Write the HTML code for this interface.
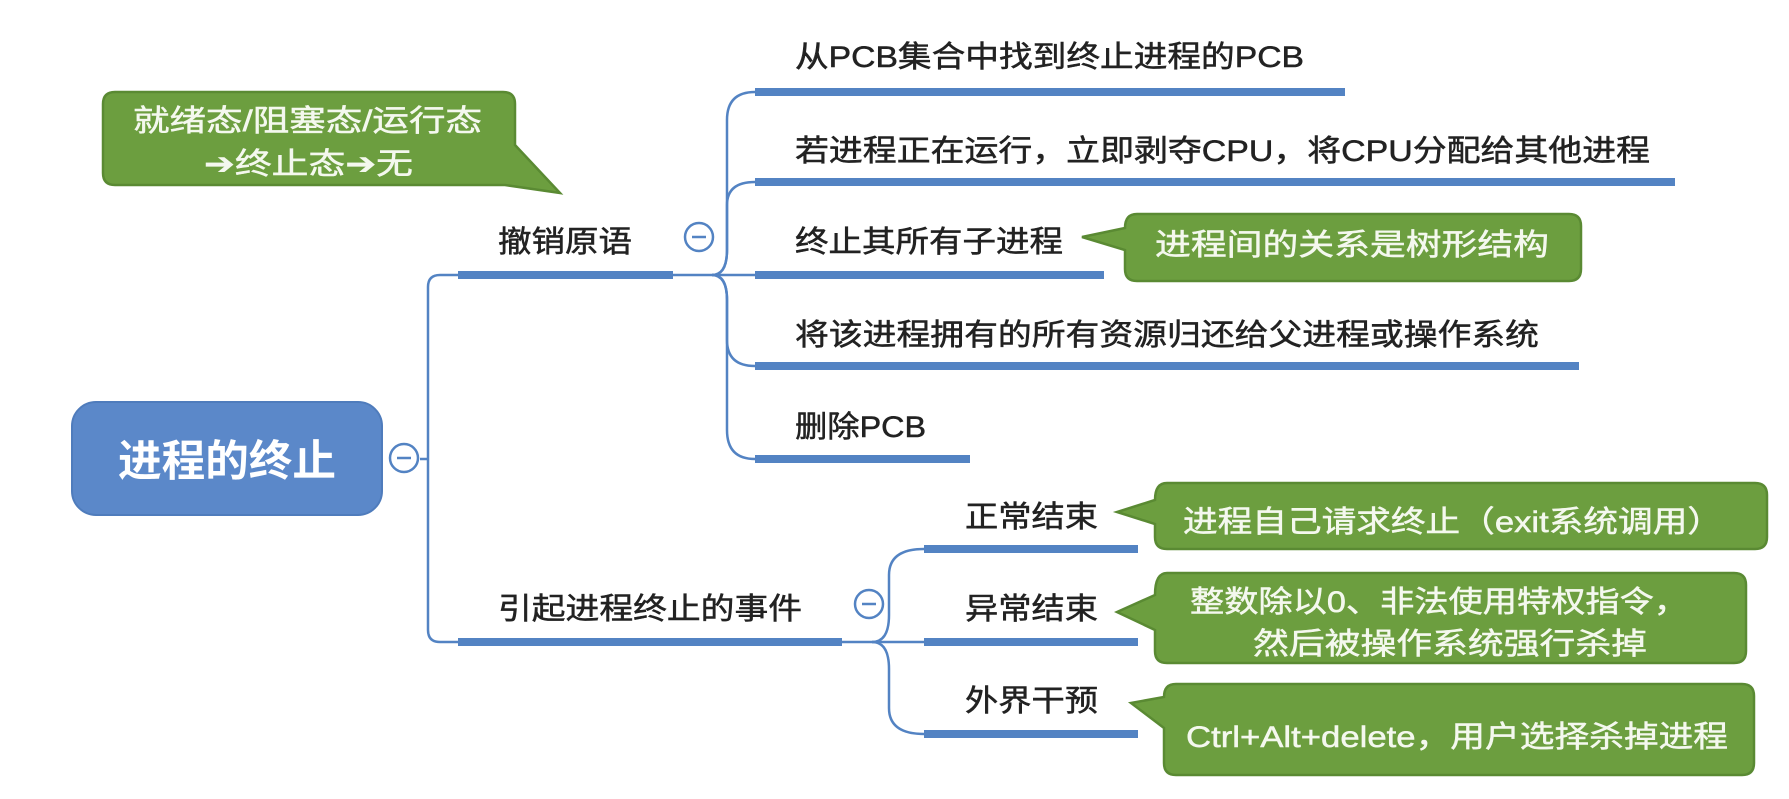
<!DOCTYPE html>
<html><head><meta charset="utf-8"><style>
html,body{margin:0;padding:0;background:#fff;}
svg{display:block;}
text{font-family:"Liberation Sans","Noto Sans CJK SC",sans-serif;}
</style></head><body>
<svg width="1789" height="799" viewBox="0 0 1789 799" xmlns="http://www.w3.org/2000/svg">
<rect width="1789" height="799" fill="#fff"/>
<g fill="none" stroke="#5383c3" stroke-width="2.5">
  <path d="M420 459 L428 459"/>
  <path d="M458 275 L440 275 Q428 275 428 287 L428 630 Q428 642 440 642 L458 642"/>
  <path d="M673 275 L755 275"/>
  <path d="M712 275 Q727 275 727 250 L727 120 Q727 92 755 92"/>
  <path d="M712 275 Q727 275 727 250 L727 205 Q727 182 755 182"/>
  <path d="M712 275 Q727 275 727 300 L727 340 Q727 366 755 366"/>
  <path d="M712 275 Q727 275 727 300 L727 430 Q727 459 755 459"/>
  <path d="M842 642 L924 642"/>
  <path d="M872 642 Q889 642 889 615 L889 575 Q889 549 924 549"/>
  <path d="M872 642 Q889 642 889 669 L889 708 Q889 734 924 734"/>
</g>
<g fill="#5383c3">
  <rect x="458" y="271" width="215" height="8"/>
  <rect x="458" y="638" width="384" height="8"/>
  <rect x="755" y="88" width="590" height="8"/>
  <rect x="755" y="178" width="920" height="8"/>
  <rect x="755" y="271" width="349" height="8"/>
  <rect x="755" y="362" width="824" height="8"/>
  <rect x="755" y="455" width="215" height="8"/>
  <rect x="924" y="545" width="214" height="8"/>
  <rect x="924" y="638" width="214" height="8"/>
  <rect x="924" y="730" width="214" height="8"/>
</g>
<g fill="#fff" stroke="#5383c3" stroke-width="2.5">
  <circle cx="404" cy="458" r="14"/>
  <circle cx="699" cy="237" r="14"/>
  <circle cx="869" cy="604" r="14"/>
</g>
<g stroke="#5383c3" stroke-width="2.5">
  <line x1="397" y1="458" x2="411" y2="458"/>
  <line x1="692" y1="237" x2="706" y2="237"/>
  <line x1="862" y1="604" x2="876" y2="604"/>
</g>
<rect x="72" y="402" width="310" height="113" rx="24" fill="#5b88c9" stroke="#4f7cbc" stroke-width="2"/>
<text x="227" y="476" text-anchor="middle" font-size="43" font-weight="bold" fill="#fff" textLength="218" lengthAdjust="spacingAndGlyphs">进程的终止</text>
<g fill="#6c9e3f" stroke="#5a8a33" stroke-width="2.5">
  <path d="M115 92 L503 92 Q515 92 515 104 L515 145 L560 193 L505 185 L115 185 Q103 185 103 173 L103 104 Q103 92 115 92 Z"/>
  <path d="M1137 214 L1569 214 Q1581 214 1581 226 L1581 269 Q1581 281 1569 281 L1137 281 Q1125 281 1125 269 L1125 250 L1082 237 L1125 228 Q1125 214 1137 214 Z"/>
  <path d="M1167 483 L1755 483 Q1767 483 1767 495 L1767 537 Q1767 549 1755 549 L1167 549 Q1155 549 1155 537 L1155 524 L1117 512 L1155 500 Q1155 483 1167 483 Z"/>
  <path d="M1167 573 L1734 573 Q1746 573 1746 585 L1746 651 Q1746 663 1734 663 L1167 663 Q1155 663 1155 651 L1155 630 L1117 612 L1155 595 Q1155 573 1167 573 Z"/>
  <path d="M1176 684 L1742 684 Q1754 684 1754 696 L1754 763 Q1754 775 1742 775 L1176 775 Q1164 775 1164 763 L1164 728 L1131 703 L1164 697 Q1164 684 1176 684 Z"/>
</g>
<g fill="#f4f8ee" stroke="#f4f8ee" stroke-width="0.5" font-size="30">
  <text x="133" y="131" textLength="349" lengthAdjust="spacingAndGlyphs">就绪态/阻塞态/运行态</text>
  <text x="204" y="174" textLength="209" lengthAdjust="spacingAndGlyphs">➔终止态➔无</text>
  <text x="1155" y="255" textLength="394" lengthAdjust="spacingAndGlyphs">进程间的关系是树形结构</text>
  <text x="1183" y="532" textLength="539" lengthAdjust="spacingAndGlyphs">进程自己请求终止（exit系统调用）</text>
  <text x="1190" y="612" textLength="498" lengthAdjust="spacingAndGlyphs">整数除以0、非法使用特权指令，</text>
  <text x="1253" y="654" textLength="394" lengthAdjust="spacingAndGlyphs">然后被操作系统强行杀掉</text>
  <text x="1186" y="747" textLength="542" lengthAdjust="spacingAndGlyphs">Ctrl+Alt+delete，用户选择杀掉进程</text>
</g>
<g fill="#222" stroke="#222" stroke-width="0.5" font-size="30">
  <text x="498" y="252" textLength="134" lengthAdjust="spacingAndGlyphs">撤销原语</text>
  <text x="498" y="619" textLength="304" lengthAdjust="spacingAndGlyphs">引起进程终止的事件</text>
  <text x="795" y="67" textLength="509" lengthAdjust="spacingAndGlyphs">从PCB集合中找到终止进程的PCB</text>
  <text x="795" y="161" textLength="855" lengthAdjust="spacingAndGlyphs">若进程正在运行，立即剥夺CPU，将CPU分配给其他进程</text>
  <text x="795" y="252" textLength="268" lengthAdjust="spacingAndGlyphs">终止其所有子进程</text>
  <text x="795" y="345" textLength="744" lengthAdjust="spacingAndGlyphs">将该进程拥有的所有资源归还给父进程或操作系统</text>
  <text x="795" y="437" textLength="131" lengthAdjust="spacingAndGlyphs">删除PCB</text>
  <text x="965" y="527" textLength="133" lengthAdjust="spacingAndGlyphs">正常结束</text>
  <text x="965" y="619" textLength="133" lengthAdjust="spacingAndGlyphs">异常结束</text>
  <text x="965" y="711" textLength="133" lengthAdjust="spacingAndGlyphs">外界干预</text>
</g>
</svg>
</body></html>
